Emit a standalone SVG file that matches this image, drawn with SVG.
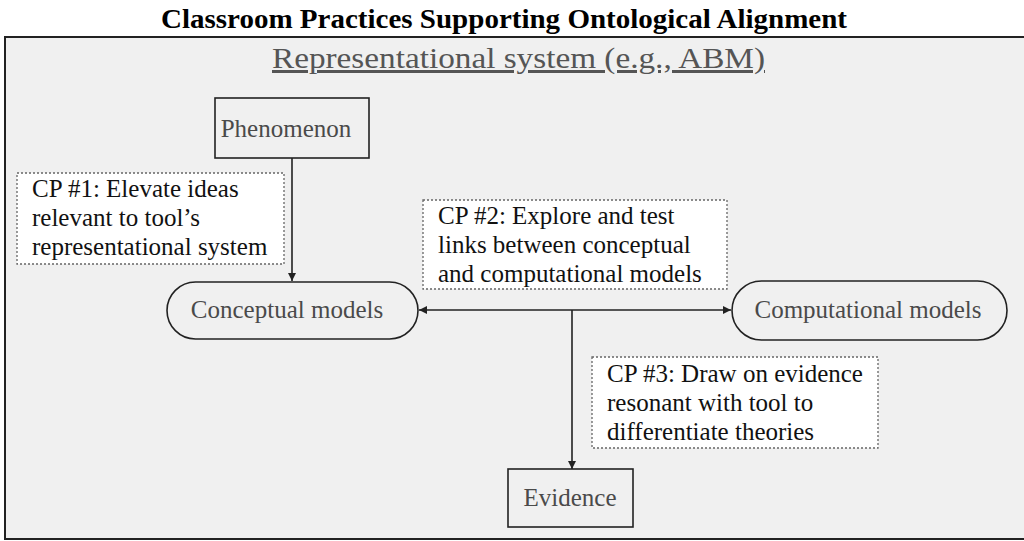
<svg xmlns="http://www.w3.org/2000/svg" width="1024" height="541" viewBox="0 0 1024 541">
<style>
.node{fill:#f0f0f0;stroke:#222;stroke-width:1.6}
.cp{fill:#fff;stroke:#666;stroke-width:1.3;stroke-dasharray:2 2}
.nt{font-family:'Liberation Serif',serif;font-size:25px;fill:#4a4a4a;text-anchor:middle}
.ct{font-family:'Liberation Serif',serif;font-size:25px;fill:#111}
.edge{stroke:#222;stroke-width:1.6;fill:none}
</style>
<defs>
<marker id="ah" viewBox="0 0 10 10" refX="10" refY="5" markerWidth="8" markerHeight="8" markerUnits="userSpaceOnUse" orient="auto-start-reverse">
<path d="M0,0 L10,5 L0,10 z" fill="#222"/>
</marker>
</defs>
<rect x="0" y="0" width="1024" height="541" fill="#fff"/>
<text x="504" y="28" font-family="'Liberation Serif', serif" font-weight="bold" font-size="27" text-anchor="middle" textLength="686" lengthAdjust="spacingAndGlyphs" fill="#000">Classroom Practices Supporting Ontological Alignment</text>
<g id="frame">
<rect x="5" y="37" width="1030" height="502" fill="#f0f0f0" stroke="#222" stroke-width="2"/>
<text x="518.5" y="68" font-family="'Liberation Serif', serif" font-size="30" text-anchor="middle" textLength="493" lengthAdjust="spacingAndGlyphs" fill="#555" text-decoration="underline">Representational system (e.g., ABM)</text>
</g>
<g id="connectors">
<line class="edge" x1="292" y1="158" x2="292" y2="281" marker-end="url(#ah)"/>
<line class="edge" x1="419" y1="310" x2="731" y2="310" marker-start="url(#ah)" marker-end="url(#ah)"/>
<line class="edge" x1="572" y1="310" x2="572" y2="469" marker-end="url(#ah)"/>
</g>
<g id="phenomenon">
<rect class="node" x="215" y="98" width="154" height="60"/>
<text class="nt" x="286" y="137">Phenomenon</text>
</g>
<g id="cp1">
<rect class="cp" x="17" y="173" width="267" height="91"/>
<text class="ct" x="32" y="197">CP #1: Elevate ideas</text>
<text class="ct" x="32" y="226">relevant to tool’s</text>
<text class="ct" x="32" y="255">representational system</text>
</g>
<g id="conceptual">
<rect class="node" x="167" y="282" width="251" height="57" rx="28.5"/>
<text class="nt" x="287" y="318">Conceptual models</text>
</g>
<g id="cp2">
<rect class="cp" x="423" y="200" width="304" height="89"/>
<text class="ct" x="438" y="224">CP #2: Explore and test</text>
<text class="ct" x="438" y="253">links between conceptual</text>
<text class="ct" x="438" y="282">and computational models</text>
</g>
<g id="computational">
<rect class="node" x="732" y="281" width="275" height="59" rx="29.5"/>
<text class="nt" x="868" y="318">Computational models</text>
</g>
<g id="cp3">
<rect class="cp" x="592" y="357" width="286" height="91"/>
<text class="ct" x="607" y="382">CP #3: Draw on evidence</text>
<text class="ct" x="607" y="411">resonant with tool to</text>
<text class="ct" x="607" y="440">differentiate theories</text>
</g>
<g id="evidence">
<rect class="node" x="508" y="469" width="125" height="58"/>
<text class="nt" x="570" y="506">Evidence</text>
</g>
</svg>
